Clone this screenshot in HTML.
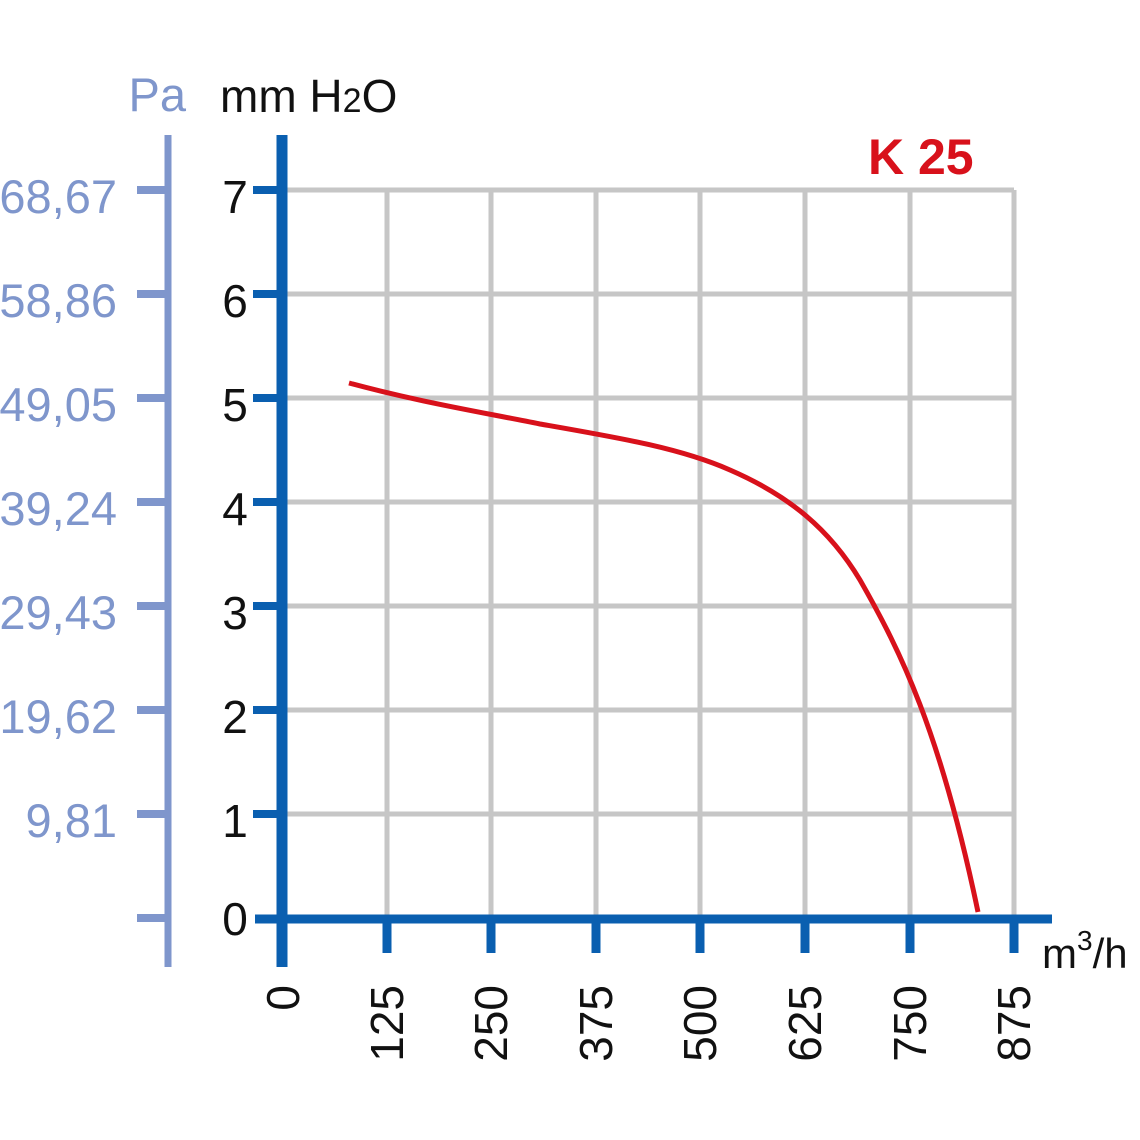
<!DOCTYPE html>
<html><head><style>body{margin:0;background:#fff}svg{display:block}</style></head>
<body>
<svg width="1140" height="1140" viewBox="0 0 1140 1140" xmlns="http://www.w3.org/2000/svg" font-family="Liberation Sans, sans-serif">
<g stroke="#c6c6c6" stroke-width="5" fill="none">
<path d="M283 190H1014M283 294H1014M283 398H1014M283 502H1014M283 606H1014M283 710H1014M283 814H1014"/>
<path d="M387 190V918M491 190V918M596 190V918M700 190V918M805 190V918M910 190V918M1014 190V918"/>
</g>
<g stroke="#7f96cc" stroke-width="7">
<path d="M168 135V967"/>
<path d="M137 190H168M137 294H168M137 398H168M137 502H168M137 606H168M137 710H168M137 814H168M137 918H168" stroke-width="8"/>
</g>
<g stroke="#0a5fb0">
<path d="M282 135V967" stroke-width="11"/>
<path d="M255 919H1052" stroke-width="9"/>
<path d="M253 190H283M253 294H283M253 398H283M253 502H283M253 606H283M253 710H283M253 814H283" stroke-width="8"/>
<path d="M387 919V953M491 919V953M596 919V953M700 919V953M805 919V953M910 919V953M1014 919V953" stroke-width="9"/>
</g>
<path d="M349 383 C420 402,470 410,540 424 C620 438,680 448,730 470 C790 496,830 530,860 580 C900 650,940 730,978 912" fill="none" stroke="#d8111b" stroke-width="5"/>
<g font-size="47" fill="#7f96cc" text-anchor="end">
<text x="117" y="213">68,67</text><text x="117" y="317">58,86</text><text x="117" y="421">49,05</text><text x="117" y="525">39,24</text><text x="117" y="629">29,43</text><text x="117" y="733">19,62</text><text x="117" y="837">9,81</text>
<text x="186" y="111" text-anchor="end">Pa</text>
</g>
<g font-size="46" fill="#111" text-anchor="middle">
<text x="235" y="213">7</text><text x="235" y="317">6</text><text x="235" y="421">5</text><text x="235" y="525">4</text><text x="235" y="629">3</text><text x="235" y="733">2</text><text x="235" y="837">1</text><text x="235" y="935">0</text>
</g>
<text x="220" y="112" font-size="46" fill="#111">mm H<tspan font-size="34">2</tspan>O</text>
<text x="868" y="174" font-size="50" font-weight="bold" fill="#d8111b">K 25</text>
<text x="1042" y="968" font-size="42" fill="#111">m<tspan dy="-18" font-size="28">3</tspan><tspan dy="18">/h</tspan></text>
<g font-size="46" fill="#111" text-anchor="end">
<text transform="translate(299,985) rotate(-90)">0</text>
<text transform="translate(403,985) rotate(-90)">125</text>
<text transform="translate(507,985) rotate(-90)">250</text>
<text transform="translate(612,985) rotate(-90)">375</text>
<text transform="translate(716,985) rotate(-90)">500</text>
<text transform="translate(821,985) rotate(-90)">625</text>
<text transform="translate(926,985) rotate(-90)">750</text>
<text transform="translate(1030,985) rotate(-90)">875</text>
</g>
</svg>
</body></html>
